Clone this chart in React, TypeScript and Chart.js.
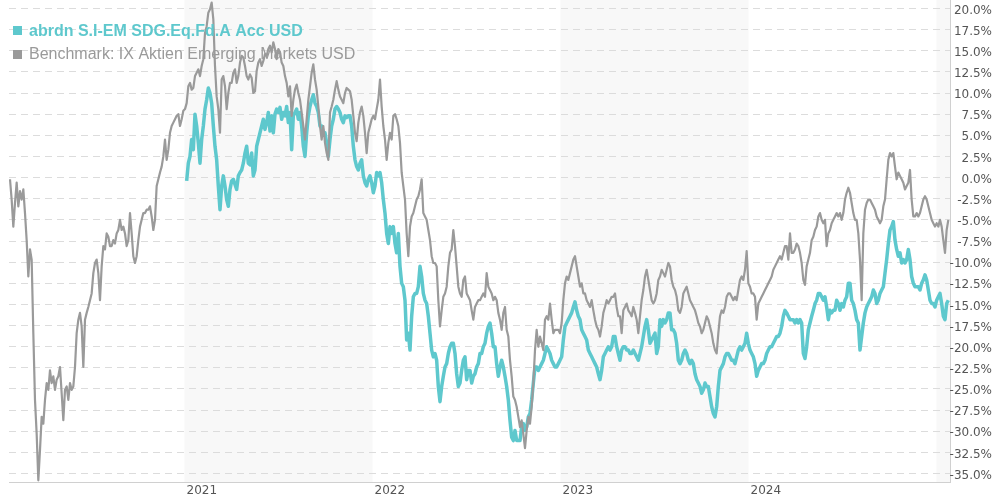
import React, { useEffect, useRef } from 'react';
import { Chart, registerables } from 'chart.js';

Chart.register(...registerables);

const fundLabel = 'abrdn S.I-EM SDG.Eq.Fd.A Acc USD';
const benchLabel = 'Benchmark: IX Aktien Emerging Markets USD';

const yearTicks = [2021, 2022, 2023, 2024];
const shadedYears = [2021, 2023, 2025];
const yTickValues = [20, 17.5, 15, 12.5, 10, 7.5, 5, 2.5, 0, -2.5, -5, -7.5, -10, -12.5, -15, -17.5, -20, -22.5, -25, -27.5, -30, -32.5, -35];

// sample dates (fractional years), ~3.24 days apart
const firstSampleYear = 2020.0718;
const sampleStepYears = 0.0088652;
const fundFirstSample = 106;

const benchValues = [
  -0.2, -2.6, -5.8, -3.0, -0.6, -3.4, -1.6, -2.6, -1.4, -4.2,
  -7.4, -11.7, -8.5, -9.7, -18.4, -26.3, -30.3, -35.8, -32.2, -28.3,
  -29.1, -26.3, -24.3, -25.1, -22.8, -24.3, -23.5, -25.1, -23.9, -23.5,
  -22.4, -25.5, -28.7, -25.1, -24.7, -26.3, -24.3, -25.1, -24.7, -22.4,
  -18.4, -16.8, -16.0, -17.6, -22.4, -16.8, -16.0, -15.3, -14.5, -13.7,
  -11.3, -10.1, -9.7, -11.3, -14.5, -10.5, -8.1, -8.5, -6.6, -7.0,
  -8.1, -8.1, -7.4, -7.8, -6.6, -6.2, -5.0, -6.2, -5.8, -6.6,
  -8.1, -7.4, -4.2, -6.6, -9.3, -10.1, -9.3, -7.4, -5.8, -5.0,
  -4.2, -4.2, -3.8, -3.8, -3.4, -4.6, -6.2, -5.0, -1.0, -0.2,
  0.6, 1.3, 2.5,
  4.5, 2.1, 3.3, 5.3, 6.1, 6.5, 6.9, 7.3, 7.5, 6.1,
  6.9, 7.9, 8.1, 8.8, 10.8, 11.2, 10.4, 10.6, 12.0, 12.4,
  12.8, 12.0, 13.2, 14.0, 17.1, 17.9, 19.5, 19.9, 20.7, 18.7,
  13.2, 9.6, 8.1, 5.3, 11.6, 12.0, 10.8, 8.1, 10.0, 11.2,
  11.2, 12.4, 12.8, 11.2, 12.0, 13.6, 14.4, 14.2, 13.2, 12.0,
  11.6, 12.2, 11.8, 10.0, 10.2, 12.6, 13.6, 14.0, 13.2, 13.8,
  14.6, 14.4, 15.2, 15.6, 14.8, 16.0, 15.2, 14.0, 15.2, 14.8,
  13.6, 13.2, 12.0, 11.2, 9.6, 10.8, 7.3, 9.2, 10.4, 11.0,
  10.0, 9.2, 7.7, 6.1, 4.5, 6.9, 9.2, 10.8, 12.4, 13.4,
  11.6, 10.4, 8.4, 6.1, 4.5, 6.1, 4.1, 2.9, 2.1,
  7.7, 8.4, 9.2, 10.4, 11.4, 10.4, 9.6, 9.2, 8.8, 10.0,
  10.6, 10.4, 10.2, 9.2, 7.3, 5.3, 4.3, 6.5, 7.7, 8.4,
  7.3, 5.3, 2.9, 5.3, 6.1, 6.9, 7.3, 6.9, 8.1, 9.2,
  11.6, 8.4, 6.1, 4.5, 2.1, 4.1, 5.3, 4.5, 7.3, 7.5,
  6.9, 6.1, 4.1, 0.6, -1.0, -2.6, -6.6, -9.3, -5.8, -4.6,
  -4.2, -3.4, -2.6, -2.2, -1.4, -0.2, -4.2, -4.6, -5.0, -6.2,
  -7.4, -9.3, -10.1, -10.1, -10.5, -14.5, -17.6, -15.7, -14.1, -13.7,
  -12.9, -10.5, -8.9, -8.5, -6.2, -8.1, -10.5, -12.9, -13.7, -14.1,
  -12.1, -11.7, -13.7, -14.1, -14.5, -15.7, -16.8, -15.3, -14.9, -14.5,
  -14.5, -14.1, -13.7, -14.1, -11.3, -12.9, -13.3, -13.7, -14.5,
  -14.1, -14.5, -16.0, -16.8, -18.0, -16.0, -15.3, -18.0, -18.8, -21.6,
  -23.5, -25.9, -26.3, -27.1, -28.3, -29.5, -28.7, -30.3, -32.0, -29.9,
  -28.3, -29.1, -27.1, -24.3, -20.4, -18.0, -20.0, -18.8, -19.6, -20.4,
  -16.8, -16.4, -16.8, -14.9, -16.8, -18.4, -18.0, -18.0, -18.0, -18.4,
  -17.2, -14.5, -12.5, -11.7, -12.1, -11.3, -10.5, -9.7, -9.3, -10.5,
  -11.7, -12.9, -12.5, -13.7, -13.7, -14.5, -14.9, -15.3, -14.5, -15.7,
  -16.8, -17.6, -18.0, -18.8, -17.6, -16.0, -15.3, -14.5, -14.9, -14.5,
  -14.1, -14.1, -13.7, -15.3, -16.4, -16.4, -18.4, -15.7, -15.3, -14.9,
  -15.7, -16.0, -16.4, -15.3, -16.0, -16.8, -18.4, -16.4, -14.5, -13.3,
  -11.7, -10.9, -12.1, -13.3, -14.5, -14.9, -14.5, -13.7, -12.1,
  -11.7, -10.9, -11.3, -11.7, -10.9, -10.1, -10.5, -12.1, -12.9, -13.3,
  -14.1, -15.7, -16.0, -15.3, -13.7, -13.3, -12.9, -13.7, -14.5, -14.9,
  -15.3, -15.7, -16.4, -17.2, -17.6, -18.4, -18.0, -17.2, -16.4, -16.8,
  -17.6, -18.4, -19.6, -20.4, -20.8, -18.4, -16.4, -15.7, -16.0, -15.3,
  -14.1, -13.7, -13.7, -14.1, -14.5, -14.1, -14.5, -13.3, -12.1, -11.7,
  -12.1, -10.9, -8.7, -12.5, -12.9, -13.7, -13.7, -14.1, -16.8, -14.9,
  -14.5, -14.1, -13.7, -13.3, -12.9, -12.5, -12.1, -11.7, -10.9, -10.5,
  -10.1, -9.7, -9.3, -9.7, -8.9, -8.1, -8.1, -9.7, -6.6, -8.9,
  -8.9, -8.5, -7.8, -8.1, -8.9, -10.1, -12.1, -12.7, -10.5, -9.7,
  -8.9, -7.4, -7.0, -6.2, -5.8, -4.6, -4.2, -5.0, -5.4,
  -5.0, -8.1, -6.6, -6.2, -5.4, -5.0, -4.6, -4.2, -4.6, -4.2,
  -5.0, -4.2, -2.6, -1.8, -1.2, -1.8, -3.0, -4.2, -5.0, -5.0,
  -6.6, -9.7, -14.5, -6.6, -3.8, -3.0, -2.6, -2.6, -3.0, -3.4,
  -3.8, -4.6, -5.0, -5.4, -5.0, -3.4, -2.6, -0.2, 2.1, 2.9,
  2.5, 2.9, 1.3, -0.2, 0.6, 0.2, -0.2, -0.6, -1.4, -1.0,
  -0.6, 0.9, -2.6, -4.6, -4.6, -4.2, -4.6, -4.2, -3.4, -2.6,
  -2.2, -2.6, -3.4, -4.2, -5.0, -5.4, -5.8, -5.4, -5.8, -5.0,
  -5.8, -7.4, -8.9, -6.2, -5.0,
];

const fundValues = [
  -0.4, 1.7, 2.5, 4.5, 3.3, 7.5, 6.1, 4.1, 1.7, 4.5,
  6.1, 8.1, 9.2, 10.6, 10.0, 8.8, 6.1, 3.7, 2.1, -1.0,
  -3.8, -1.0, 0.2, -1.0, -2.6, -3.4, -1.4, -0.4, -0.2, -0.8,
  -1.4, 0.2, 0.6, 0.9, 1.7, 2.9, 3.7, 1.7, 1.5, 2.9,
  0.2, 0.9, 3.7, 4.5, 5.3, 6.1, 6.9, 5.7, 6.5, 7.7,
  5.5, 7.3, 5.3, 7.5, 8.1, 7.7, 8.3, 6.9, 7.7, 7.3,
  8.4, 6.5, 7.7, 3.3, 7.3, 7.7, 8.1, 6.9, 7.7, 6.1,
  3.7, 2.5, 5.3, 7.3, 8.4, 9.2, 9.8, 8.8, 8.4, 7.7,
  6.1, 6.1, 5.3, 5.3, 4.1, 2.5,
  4.5, 6.1, 6.9, 8.1, 8.4, 8.1, 7.7, 6.9, 6.5, 7.3,
  7.1, 7.3, 7.3, 6.1, 3.7, 2.1, 1.3, 0.9, 1.7, 2.1,
  0.2, -0.6, -1.0, -0.2, 0.2, -0.6, -1.8, -1.0, 0.6, 0.2,
  0.6, -0.6, -2.6, -4.2, -6.6, -7.8, -5.8, -6.6, -5.8, -7.8,
  -8.9, -6.6, -10.5, -12.5, -12.9, -14.5, -19.2, -18.4, -20.4, -16.4,
  -14.1, -13.7, -13.7, -12.9, -10.5, -11.7, -13.7, -14.5, -14.9, -16.4,
  -18.4, -20.4, -21.2, -20.8, -21.6, -24.7, -26.5, -24.7, -23.5, -22.4,
  -22.0, -20.8, -20.0, -19.6, -19.6, -20.8, -23.2, -24.7, -24.3, -22.8,
  -21.6, -21.2, -23.9, -22.8, -22.8, -24.3, -23.5, -23.2, -22.4, -22.0,
  -20.8, -20.8, -20.0, -19.6, -18.4, -17.6, -17.2, -18.4, -20.0,
  -20.0, -22.0, -23.5, -22.4, -21.6, -22.4, -23.5, -24.7, -26.3, -28.7,
  -30.7, -31.1, -29.9, -31.1, -31.1, -31.1, -29.5, -29.1, -29.9, -29.5,
  -28.3, -27.9, -26.3, -24.3, -22.4, -22.4, -22.8, -22.4, -22.0, -21.6,
  -20.8, -20.0, -20.4, -20.8, -21.6, -22.0, -22.4, -22.4, -22.0, -21.6,
  -21.2, -19.2, -17.6, -17.2, -16.8, -16.4, -16.0, -15.3, -14.7, -15.7,
  -16.4, -16.8, -18.0, -18.4, -18.8, -19.2, -20.4, -20.8, -21.2, -21.6,
  -22.0, -22.4, -23.2, -23.9, -22.8, -21.2, -20.8, -20.4, -20.0, -20.4,
  -20.0, -18.8, -18.8, -20.0, -20.8, -21.6, -20.4, -20.0, -20.0, -20.4,
  -20.4, -20.8, -20.8, -20.4, -20.8, -21.2, -21.6, -20.8, -20.0, -18.8,
  -17.6, -16.8, -18.0, -19.6, -19.2, -18.8, -18.4, -20.8, -20.0,
  -16.8, -17.6, -16.8, -17.2, -16.8, -16.0, -16.0, -18.0, -18.0, -18.4,
  -19.6, -21.6, -22.0, -21.6, -20.8, -20.4, -20.8, -21.6, -22.0, -21.6,
  -22.0, -23.2, -23.9, -24.3, -24.7, -25.5, -25.1, -24.3, -24.7, -24.7,
  -25.9, -27.1, -27.9, -28.3, -27.1, -24.7, -22.8, -22.4, -22.0, -21.2,
  -20.8, -20.8, -21.2, -21.6, -21.6, -22.0, -21.2, -20.4, -20.0, -20.4,
  -20.0, -19.6, -18.4, -19.6, -20.4, -20.8, -21.2, -22.0, -23.5, -22.8,
  -22.4, -22.0, -22.0, -21.6, -20.8, -20.4, -20.0, -20.0, -19.6, -19.2,
  -18.8, -18.8, -18.4, -17.6, -16.4, -15.7, -16.0, -16.4, -16.8, -16.8,
  -16.8, -17.2, -16.8, -17.2, -16.8, -17.2, -20.8, -21.4, -20.0, -18.0,
  -17.2, -16.4, -15.7, -14.9, -14.5, -13.7, -13.7, -14.1, -14.5,
  -14.1, -15.3, -16.8, -15.7, -16.0, -15.7, -15.7, -14.5, -14.9, -15.7,
  -14.9, -15.3, -14.5, -14.1, -12.5, -12.5, -14.5, -14.9, -15.7, -16.8,
  -17.2, -20.4, -18.8, -17.2, -16.0, -15.3, -14.9, -14.5, -14.1, -13.3,
  -13.7, -14.9, -14.5, -13.7, -13.3, -12.9, -11.3, -9.7, -7.8, -6.2,
  -5.8, -5.2, -7.4, -8.5, -9.3, -8.9, -10.1, -9.7, -10.1, -9.7,
  -8.5, -9.7, -11.7, -12.5, -12.9, -12.9, -12.9, -13.3, -12.5, -12.1,
  -11.5, -12.1, -13.3, -14.5, -14.9, -14.9, -15.3, -14.5, -14.1, -13.7,
  -14.9, -16.4, -16.8, -14.9, -14.5,
];

const TEAL = '#5ec8cd';
const GRAY = '#9a9a9a';
const GRID = '#dcdcdc';
const AXIS = '#d0d0d0';
const TEXT = '#555555';
const BAND = '#f8f8f8';

const bandsPlugin = {
  id: 'yearBands',
  beforeDraw(chart: any) {
    const { ctx, chartArea, scales } = chart;
    const xs = scales.x;
    ctx.save();
    ctx.fillStyle = BAND;
    shadedYears.forEach((yr) => {
      const a = Math.max(xs.getPixelForValue(yr), chartArea.left);
      const b = Math.min(xs.getPixelForValue(yr + 1), chartArea.right);
      if (b > a) ctx.fillRect(a, chartArea.top, b - a, chartArea.bottom - chartArea.top);
    });
    ctx.restore();
  },
};

const legendPlugin = {
  id: 'customLegend',
  afterDraw(chart: any) {
    const { ctx } = chart;
    ctx.save();
    ctx.textBaseline = 'alphabetic';
    ctx.textAlign = 'left';
    ctx.fillStyle = TEAL;
    ctx.fillRect(13, 26, 9, 9);
    ctx.font = 'bold 16px "Liberation Sans", Arial, sans-serif';
    ctx.fillText(fundLabel, 29, 35.5);
    ctx.fillStyle = GRAY;
    ctx.fillRect(13, 50, 9, 9);
    ctx.font = '16px "Liberation Sans", Arial, sans-serif';
    ctx.fillText(benchLabel, 29, 59);
    ctx.restore();
  },
};

export default function App() {
  const ref = useRef<HTMLCanvasElement | null>(null);

  useEffect(() => {
    if (!ref.current) return;
    const benchData = benchValues.map((v, i) => ({ x: firstSampleYear + i * sampleStepYears, y: v }));
    const fundData = fundValues.map((v, i) => ({ x: firstSampleYear + (fundFirstSample + i) * sampleStepYears, y: v }));
    const font = { family: '"DejaVu Sans", Verdana, sans-serif', size: 12 };
    const chart = new Chart(ref.current, {
      type: 'line',
      data: {
        datasets: [
          {
            label: benchLabel,
            data: benchData,
            borderColor: GRAY,
            backgroundColor: GRAY,
            borderWidth: 2.2,
            pointRadius: 0,
            tension: 0,
            fill: false,
            borderJoinStyle: 'round',
          },
          {
            label: fundLabel,
            data: fundData,
            borderColor: TEAL,
            backgroundColor: TEAL,
            borderWidth: 3.5,
            pointRadius: 0,
            tension: 0,
            fill: false,
            borderJoinStyle: 'round',
          },
        ],
      },
      options: {
        animation: false,
        responsive: false,
        devicePixelRatio: 1,
        layout: { padding: { left: 9, top: 0, right: 0, bottom: 0 } },
        plugins: { legend: { display: false }, tooltip: { enabled: false } },
        scales: {
          x: {
            type: 'linear',
            position: 'bottom',
            min: 2020.0665,
            max: 2025.0718,
            grid: { display: false, drawTicks: false, tickLength: 0 },
            border: { display: true, color: AXIS, width: 1 },
            afterBuildTicks: (s: any) => {
              s.ticks = yearTicks.map((v) => ({ value: v }));
            },
            afterFit: (s: any) => {
              s.height = 18;
              s.paddingLeft = 0;
              s.paddingRight = 0;
            },
            ticks: {
              autoSkip: false,
              maxRotation: 0,
              minRotation: 0,
              align: 'start',
              labelOffset: 2,
              padding: 2,
              color: TEXT,
              font,
              callback: (v: any) => String(v),
            },
          },
          y: {
            type: 'linear',
            position: 'right',
            min: -36,
            max: 21,
            grid: { color: GRID, lineWidth: 1, drawTicks: false },
            border: { display: true, color: AXIS, width: 1, dash: [7, 5] },
            afterBuildTicks: (s: any) => {
              s.ticks = yTickValues.map((v) => ({ value: v }));
            },
            afterFit: (s: any) => {
              s.width = 42;
              s.paddingTop = 0;
              s.paddingBottom = 0;
            },
            ticks: {
              autoSkip: false,
              crossAlign: 'far',
              padding: 0,
              labelOffset: 2,
              color: TEXT,
              font,
              callback: (v: any) => Number(v).toFixed(1) + '%',
            },
          },
        },
      },
      plugins: [bandsPlugin, legendPlugin],
    } as any);
    return () => chart.destroy();
  }, []);

  return (
    <div style={{ position: 'absolute', left: 0, top: 0, width: 992, height: 500, background: '#fff' }}>
      <canvas ref={ref} width={992} height={500} style={{ display: 'block', width: 992, height: 500 }} />
    </div>
  );
}
